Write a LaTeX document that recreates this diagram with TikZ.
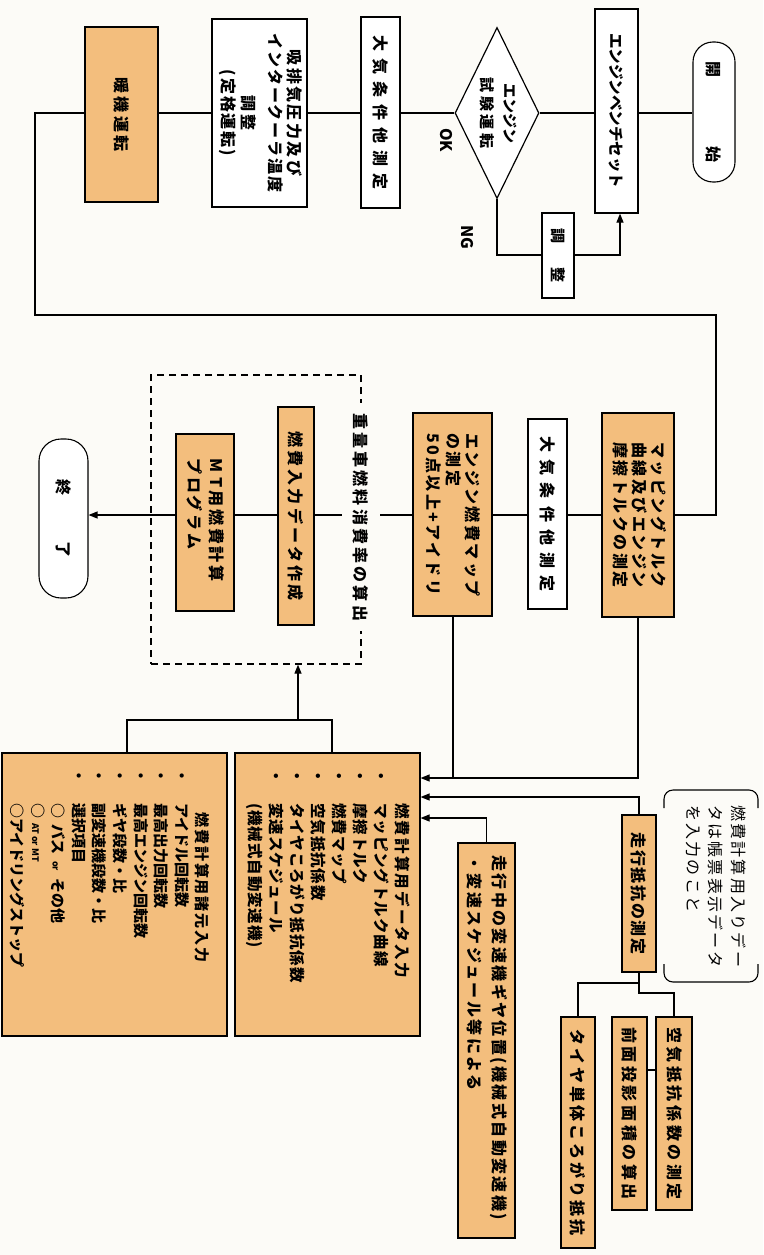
\documentclass[tikz,border=0pt]{standalone}
\usepackage{fontspec}
\setmainfont{Noto Sans CJK JP}
\usetikzlibrary{shapes.geometric,arrows.meta}
\definecolor{paper}{RGB}{252,251,247}
\definecolor{orng}{RGB}{243,190,125}
\newcommand\ls[2]{{\addfontfeature{LetterSpace=#1}#2}}
\newcommand\vt[1]{\rotatebox{-90}{\begin{tabular}{@{}c@{}}#1\end{tabular}}}
\begin{document}
\begin{tikzpicture}[x=1pt,y=-1pt,
  every node/.style={font=\fontsize{16}{19}\selectfont\bfseries, inner sep=0pt},
  box/.style={draw, line width=1.2pt, fill=white, rectangle},
  obox/.style={box, fill=orng},
  term/.style={draw, line width=1.1pt, fill=white, rounded corners=20pt},
  conn/.style={line width=1.2pt},
  arr/.style={line width=1.2pt, -{Triangle[length=9pt,width=7pt]}},
  vtext/.style={rotate=-90, align=left},
]
\fill[paper] (0,0) rectangle (763,1255);
\useasboundingbox (0,0) rectangle (763,1255);

% reference rows
\coordinate (r1) at (0,113);
\coordinate (r2) at (0,515);

% ---------- top row ----------
\node[term, minimum width=42, minimum height=140] (start) at (714,112) {\rotatebox{-90}{開\hspace{69pt}始}};
\node[box, minimum width=43, minimum height=204] (bench) at (616.5,111) {\rotatebox{-90}{\fontsize{15.5}{19}\selectfont エンジンベンチセット}};
\node[draw, line width=1.2pt, fill=white, diamond, aspect=0.49, minimum width=84, minimum height=171] (test) at (497,113) {\vt{\fontsize{15}{19}\selectfont エンジン\\[4pt]\fontsize{15}{19}\selectfont\ls{25}{試験運転}}};
\node (ok) at (446,140) {\rotatebox{-90}{OK}};
\node (ng) at (467,237) {\rotatebox{-90}{NG}};
\node[box, minimum width=32, minimum height=85] (adj) at (558,255.5) {\rotatebox{-90}{\fontsize{15}{19}\selectfont 調\hspace{25pt}整}};
\node[box, minimum width=39, minimum height=191] (atmA) at (380.5,112.5) {\rotatebox{-90}{\ls{44}{大気条件他測定}}};
\node[box, minimum width=95, minimum height=188] (intake) at (259.5,113) {\vt{\ls{15}{吸排気圧力及び}\\\ls{12}{インタークーラ温度}\\[7pt]\ls{15}{調整}\\[1pt]\ls{12}{(定格運転)}}};
\node[obox, minimum width=73, minimum height=175] (warm) at (121.5,114.5) {\rotatebox{-90}{\ls{19}{暖機運転}}};

% ---------- second row ----------
\node[obox, minimum width=72, minimum height=204] (mapping) at (638,515) {\vt{\ls{16}{マッピングトルク}\\[-0.5pt]\ls{16}{曲線及びエンジン}\\[-0.5pt]\ls{16}{摩擦トルクの測定}}};
\node[box, minimum width=39, minimum height=190] (atmB) at (547.5,514) {\rotatebox{-90}{\ls{44}{大気条件他測定}}};
\node[obox, minimum width=79, minimum height=203] (fuelmap) at (452.5,514.5) {};
\node[vtext, anchor=north west, font=\fontsize{16}{19.5}\selectfont\bfseries] (fuelmapT) at (481,433) {\ls{15}{エンジン燃費マップ}\\\ls{15}{の測定}\\\ls{15}{50点以上+アイドリ}};
\node[draw, dash pattern=on 7pt off 5pt, line width=1.3pt, minimum width=210, minimum height=289] (calc) at (256,519.5) {};
\node[obox, minimum width=36, minimum height=218] (inp) at (296,516) {\rotatebox{-90}{\ls{20}{燃費入力データ作成}}};
\node[obox, minimum width=58, minimum height=177] (mt) at (205,522.5) {};
\node[vtext, anchor=north west] (mtT) at (225,458) {\ls{18}{M\hspace{5pt}T用燃費計算}\\[3pt]\ls{18}{プログラム}};
\node[term, minimum width=49, minimum height=159, rounded corners=22pt] (end) at (63.5,518.5) {\rotatebox{-90}{終\hspace{46pt}了}};

% ---------- bottom boxes ----------
\node[obox, minimum width=185, minimum height=283] (data) at (327.5,894.5) {};
\node[vtext, anchor=north west, font=\fontsize{15.5}{21}\selectfont\bfseries] (dataT) at (410,768) {%
\makebox[35pt][l]{}\ls{14}{燃費計算用データ入力}\\
\makebox[35pt][l]{・}\ls{6}{マッピングトルク曲線}\\
\makebox[35pt][l]{・}\ls{6}{摩擦トルク}\\
\makebox[35pt][l]{・}\ls{6}{燃費マップ}\\
\makebox[35pt][l]{・}\ls{6}{空気抵抗係数}\\
\makebox[35pt][l]{・}\ls{6}{タイヤころがり抵抗係数}\\
\makebox[35pt][l]{・}\ls{6}{変速スケジュール}\\
\makebox[35pt][l]{}\ls{6}{(機械式自動変速機)}};

\node[obox, minimum width=225, minimum height=283] (spec) at (114.5,894.5) {};
\node[vtext, anchor=north west, font=\fontsize{15}{20.6}\selectfont\bfseries] (specT) at (210,768) {%
\makebox[44pt][l]{}\ls{13}{燃費計算用諸元入力}\\
\makebox[35pt][l]{・}アイドル回転数\\
\makebox[35pt][l]{・}最高出力回転数\\
\makebox[35pt][l]{・}最高エンジン回転数\\
\makebox[35pt][l]{・}ギヤ段数・比\\
\makebox[35pt][l]{・}副変速機段数・比\\
\makebox[35pt][l]{・}選択項目\\
\makebox[35pt][l]{}○\hspace{6pt}バス\hspace{7pt}{\fontsize{9}{9}\selectfont or}\hspace{7pt}その他\\
\makebox[35pt][l]{}○\hspace{5pt}{\fontsize{9}{9}\selectfont AT or MT}\\
\makebox[35pt][l]{}○アイドリングストップ};

% ---------- right side ----------
\node[obox, minimum width=34, minimum height=157] (runres) at (639,893.5) {\rotatebox{-90}{\ls{10}{走行抵抗の測定}}};
\node[vtext, anchor=north west, font=\fontsize{16}{22.5}\selectfont] (note) at (746,805) {\ls{14}{燃費計算用入りデー}\\\ls{14}{タは帳票表示データ}\\\ls{14}{を入力のこと}};
\node[obox, minimum width=57, minimum height=395] (gear) at (486.5,1040.5) {};
\node[vtext, anchor=north west, font=\fontsize{16}{25}\selectfont\bfseries] (gearT) at (508,855) {\ls{15}{走行中の変速機ギヤ位置(機械式自動変速機)}\\\ls{15}{・変速スケジュール等による}};
\node[obox, minimum width=34, minimum height=231] (tire) at (578,1132.5) {\rotatebox{-90}{\ls{19}{タイヤ単体ころがり抵抗}}};
\node[obox, minimum width=35, minimum height=193] (front) at (629.5,1113.5) {\rotatebox{-90}{\ls{22}{前面投影面積の算出}}};
\node[obox, minimum width=36, minimum height=193] (air) at (674,1113.5) {\rotatebox{-90}{\ls{22}{空気抵抗係数の測定}}};

% note brackets
\draw[line width=1.1pt, rounded corners=9pt] (664,808) -- (664,790) -- (758,790) -- (758,808);
\draw[line width=1.1pt, rounded corners=9pt] (664,964) -- (664,982) -- (758,982) -- (758,964);

% ---------- connectors ----------
\coordinate (c1) at (35,315);
\coordinate (c2) at (716,315);
\coordinate (n1) at (497,255);
\coordinate (n2) at (620,255);
\draw[conn] (start.west |- r1) -- (bench.east |- r1);
\draw[conn] (bench.west |- r1) -- (test.east);
\draw[conn] (test.west) -- (atmA.east |- r1);
\draw[conn] (atmA.west |- r1) -- (intake.east |- r1);
\draw[conn] (intake.west |- r1) -- (warm.east |- r1);
\draw[conn] (warm.west |- r1) -| (c1) -- (c2) |- (mapping.east |- r2);
\draw[conn] (test.south) -- (n1) -- (adj.west |- n1);
\draw[arr] (adj.east |- n1) -- (n2) -- (n2 |- bench.south);

\draw[conn] (mapping.west |- r2) -- (atmB.east |- r2);
\draw[conn] (atmB.west |- r2) -- (fuelmap.east |- r2);
\draw[conn] (fuelmap.west |- r2) -- (inp.east |- r2);
\draw[conn] (inp.west |- r2) -- (mt.east |- r2);
\draw[arr] (mt.west |- r2) -- (end.east |- r2);

\coordinate (a1) at (0,778);
\coordinate (a2) at (0,797);
\coordinate (a3) at (0,818);
\coordinate (v1) at (453,0);
\draw[arr] (mapping.south) |- (data.east |- a1);
\draw[conn] (fuelmap.south -| v1) -- (v1 |- a1);
\draw[arr] (runres.north) |- (data.east |- a2);
\draw[arr] (gear.north) |- (data.east |- a3);

\coordinate (hL) at (127,720);
\coordinate (hR) at (332,720);
\coordinate (j1) at (298,720);
\draw[conn] (spec.north -| hL) -- (hL) -- (hR) -- (data.north -| hR);
\draw[arr] (j1) -- (calc.south -| j1);

\coordinate (t1) at (639,983);
\coordinate (t2) at (639,993);
\coordinate (f1) at (0,1070);
\draw[conn] (runres.south) -- (t1) -| (tire.north);
\draw[conn] (t1) -- (t2) -| (air.north);
\draw[conn] (front.east |- f1) -- (air.west |- f1);

% label on dashed frame (drawn last to cut the lines)
\node[fill=paper, inner xsep=11pt, inner ysep=10pt] (calcT) at (361,517) {\rotatebox{-90}{\ls{20}{重量車燃料消費率の算出}}};
\end{tikzpicture}
\end{document}
